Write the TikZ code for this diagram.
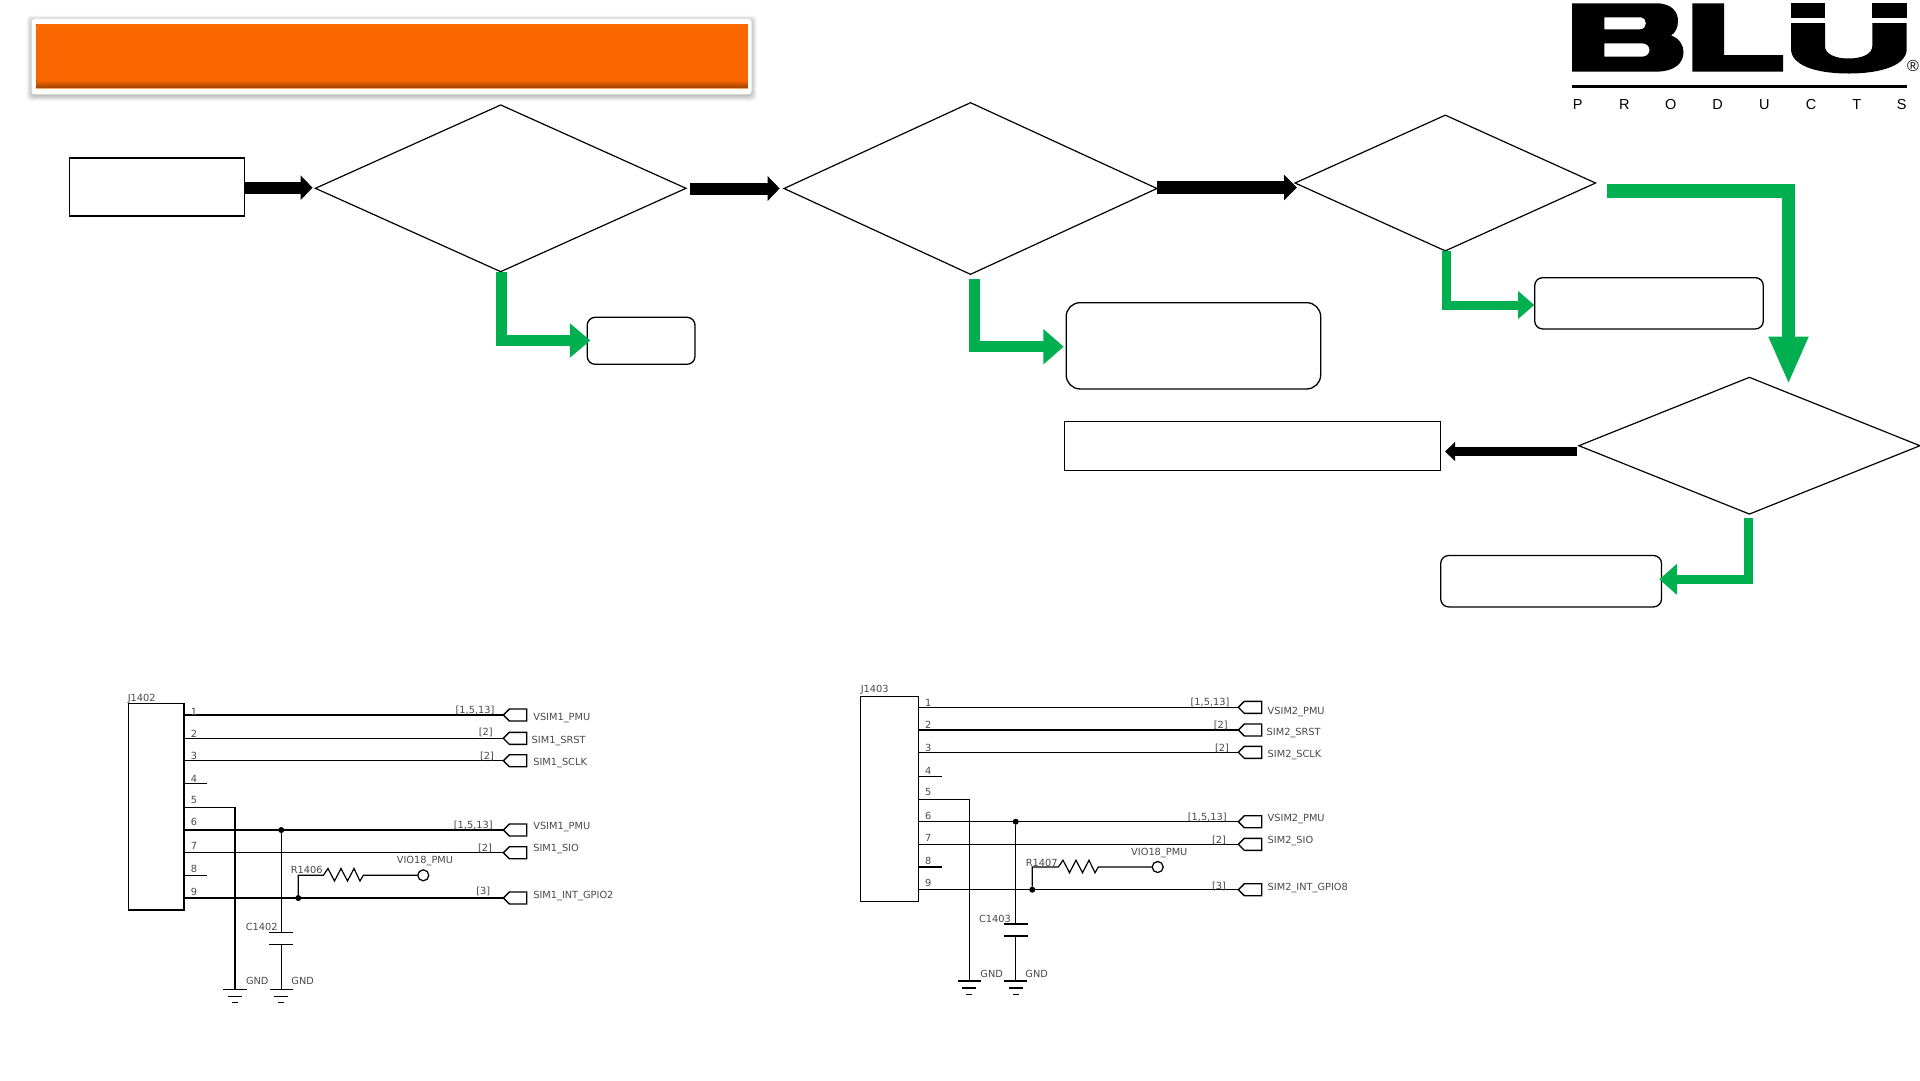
\documentclass[tikz,border=0pt]{standalone}
\usepackage{fontspec}
\setmainfont{DejaVu Sans}
\newfontfamily\logofont{Liberation Sans}
\usetikzlibrary{shapes.geometric,arrows.meta,calc}
\definecolor{flowgreen}{HTML}{00B050}
\definecolor{barorange}{HTML}{FA6600}
\definecolor{bardark}{HTML}{9C4200}
\definecolor{schemtext}{HTML}{4A4A4A}
\tikzset{
  x=1pt,y=-1pt,
  flowdiamond/.style={draw=black,line width=1.2pt,diamond,inner sep=0pt,outer sep=0pt,fill=white},
  flowrect/.style={draw=black,line width=1.3pt,rectangle,inner sep=0pt,outer sep=0pt,fill=white},
  flowround/.style={draw=black,line width=1.3pt,rectangle,rounded corners=8pt,inner sep=0pt,outer sep=0pt,fill=white},
  blackflow/.style={line width=12pt,draw=black,-{Triangle[length=12pt,width=24pt,fill=black]}},
  greenflow/.style={line width=11pt,draw=flowgreen,miter limit=10,-{Triangle[length=20pt,width=33pt,fill=flowgreen]}},
  wire/.style={draw=black,line width=1.2pt},
  connbox/.style={draw=black,line width=1.4pt,rectangle,inner sep=0pt,outer sep=0pt},
  schem/.style={inner sep=0pt,outer sep=0pt,text=schemtext,yshift=-0.8pt,font=\fontsize{9.8}{11}\selectfont},
  portlabel/.style={schem,anchor=west},
  pinnum/.style={schem},
  dotnode/.style={circle,fill=black,inner sep=0pt,minimum size=6pt,outer sep=0pt},
  ringnode/.style={circle,draw=black,line width=1.25pt,fill=white,inner sep=0pt,minimum size=11pt,outer sep=0pt},
  logoletter/.style={inner sep=0pt,outer sep=0pt,font=\logofont\fontsize{14.5}{16}\selectfont,text=black},
}
\newcommand{\portshape}[2]{%
  \draw[wire,line width=1.4pt] (#1,#2) -- (#1+6,#2-6) -- (#1+23.4,#2-6) -- (#1+23.4,#2+6) -- (#1+6,#2+6) -- cycle;}
\newcommand{\groundshape}[2]{%
  \draw[wire] (#1-11.7,#2) -- (#1+11.7,#2);
  \draw[wire] (#1-7,#2+7) -- (#1+7,#2+7);
  \draw[wire] (#1-3,#2+13.4) -- (#1+3,#2+13.4);}
\begin{document}
\begin{tikzpicture}
\useasboundingbox (0,0) rectangle (1920,1080);
\fill[white] (0,0) rectangle (1920,1080);

% title bar
\foreach \g in {5,4,3,2,1,0}{
  \fill[black,opacity=0.045,rounded corners=4pt] (31.5-\g,19-\g+1.5) rectangle (751.5+\g,94.5+\g+1.5);
}
\node[rectangle,rounded corners=3pt,fill=white,minimum width=720pt,minimum height=75.5pt,inner sep=0pt,outer sep=0pt] (barframe) at (391.5,56.7) {};
\node[rectangle,fill=barorange,minimum width=711.5pt,minimum height=64.7pt,inner sep=0pt,outer sep=0pt] (titlebar) at (392,56.7) {};
\fill[top color=barorange,bottom color=bardark] ([yshift=9pt]titlebar.south west) rectangle ([yshift=1.2pt]titlebar.south east);
\fill[top color=barorange!80!orange,bottom color=barorange] (titlebar.north west) rectangle ([yshift=-7pt]titlebar.north east);
\fill[barorange!60!white] ([yshift=1.2pt]titlebar.south west) rectangle (titlebar.south east);

% logo
\fill[black,even odd rule]
  (1572,3.3) -- (1656,3.3) .. controls (1672,3.3) and (1678,12) .. (1678,21)
  .. controls (1678,28) and (1675,33) .. (1671,35.5)
  .. controls (1679,38) and (1683.5,45) .. (1683.5,52)
  .. controls (1683.5,63) and (1675,71.7) .. (1655,71.7) -- (1572,71.7) -- cycle
  (1604.3,17.3) -- (1640,17.3) .. controls (1648,17.3) and (1648,29.3) .. (1640,29.3) -- (1604.3,29.3) -- cycle
  (1604.3,43.3) -- (1642,43.3) .. controls (1652,43.3) and (1652,56.7) .. (1642,56.7) -- (1604.3,56.7) -- cycle;
\fill[black] (1692.3,3.3) -- (1724,3.3) -- (1724,55) -- (1783,55) -- (1783,71.7) -- (1692.3,71.7) -- cycle;
\fill[black] (1791,3.3) rectangle (1825,18);
\fill[black] (1872.3,3.3) rectangle (1906.7,18);
\fill[black] (1791,23) -- (1825,23) -- (1825,46) .. controls (1825,54) and (1835,58.5) .. (1848.5,58.5)
  .. controls (1862,58.5) and (1872.3,54) .. (1872.3,46) -- (1872.3,23) -- (1906.7,23) -- (1906.7,49)
  .. controls (1906.7,65) and (1882,73.5) .. (1848.5,73.5)
  .. controls (1815,73.5) and (1791,65) .. (1791,49) -- cycle;
\node[inner sep=0pt,font=\logofont\fontsize{16}{18}\selectfont] (logoreg) at (1913,66) {®};
\draw[black,line width=3.4pt] (1572,86.7) -- (1906.7,86.7);
\node[logoletter] (lp1) at (1577.8,105) {P};
\node[logoletter] (lp2) at (1624.3,105) {R};
\node[logoletter] (lp3) at (1670.7,105) {O};
\node[logoletter] (lp4) at (1717.7,105) {D};
\node[logoletter] (lp5) at (1764.3,105) {U};
\node[logoletter] (lp6) at (1811,105) {C};
\node[logoletter] (lp7) at (1856.7,105) {T};
\node[logoletter] (lp8) at (1901.7,105) {S};

% flowchart nodes
\node[flowrect,line width=1.8pt,minimum width=175pt,minimum height=58pt] (start) at (157,187) {};
\node[flowdiamond,minimum width=370.6pt,minimum height=166.7pt] (d1) at (500.7,188.3) {};
\node[flowdiamond,minimum width=372.9pt,minimum height=171.6pt] (d2) at (970.5,188.5) {};
\node[flowdiamond,minimum width=300.5pt,minimum height=135.7pt] (d3) at (1445.3,183) {};
\node[flowdiamond,minimum width=341.1pt,minimum height=136.7pt] (d4) at (1749.4,445.7) {};
\node[flowround,minimum width=107.8pt,minimum height=47pt] (r1) at (641.1,340.8) {};
\node[flowround,rounded corners=14pt,minimum width=254.5pt,minimum height=86.3pt] (r2) at (1193.4,345.8) {};
\node[flowround,minimum width=228.6pt,minimum height=51.3pt] (r3) at (1649,303.3) {};
\node[flowrect,line width=1.1pt,minimum width=376pt,minimum height=49pt] (r5) at (1252.5,445.8) {};
\node[flowround,minimum width=220.8pt,minimum height=51.4pt] (r4) at (1551.1,581.2) {};

% flowchart arrows
\coordinate (a1s) at (244.7,187.7);
\coordinate (a1e) at (312.6,187.7);
\coordinate (a2s) at (690,188.5);
\coordinate (a2e) at (779.7,188.5);
\coordinate (a3s) at (1156.5,187.5);
\coordinate (a3e) at (1297,187.5);
\coordinate (a4s) at (1577,451.5);
\coordinate (a4e) at (1445,451.5);
\draw[blackflow] (a1s) -- (a1e);
\draw[blackflow] (a2s) -- (a2e);
\draw[blackflow,line width=13pt,-{Triangle[length=13pt,width=25pt,fill=black]}] (a3s) -- (a3e);
\draw[blackflow,line width=9.5pt,-{Triangle[length=10pt,width=18.5pt,fill=black]}] (a4s) -- (a4e);
\coordinate (g1s) at (501.5,271.7);
\coordinate (g1c) at (501.5,340.5);
\coordinate (g1e) at (590.4,340.5);
\coordinate (g2s) at (974.6,279.3);
\coordinate (g2c) at (974.6,346.7);
\coordinate (g2e) at (1063.7,346.7);
\coordinate (g3s) at (1446.9,250.7);
\coordinate (g3c) at (1446.9,305);
\coordinate (g3e) at (1534.3,305);
\coordinate (g4s) at (1748.3,518);
\coordinate (g4c) at (1748.3,579.3);
\coordinate (g4e) at (1659.3,579.3);
\coordinate (g5s) at (1606.5,191);
\coordinate (g5c) at (1788.5,191);
\coordinate (g5e) at (1788.5,384.5);
\draw[greenflow,line width=10.5pt,-{Triangle[length=20.5pt,width=33pt,fill=flowgreen]}] (g1s) -- (g1c) -- (g1e);
\draw[greenflow,line width=10.8pt,-{Triangle[length=20.3pt,width=34pt,fill=flowgreen]}] (g2s) -- (g2c) -- (g2e);
\draw[greenflow,line width=9pt,-{Triangle[length=16.3pt,width=27pt,fill=flowgreen]}] (g3s) -- (g3c) -- (g3e);
\draw[greenflow,line width=9.5pt,-{Triangle[length=17.7pt,width=30pt,fill=flowgreen]}] (g4s) -- (g4c) -- (g4e);
\draw[greenflow,line width=13.4pt,-{Triangle[length=48pt,width=36.5pt,fill=flowgreen]}] (g5s) -- (g5c) -- (g5e);

% schematic J1402
\node[connbox,minimum width=55.7pt,minimum height=206.7pt] (j1) at (156.2,806.7) {};
\node[schem] (j1t) at (141.7,698.3) {J1402};
\foreach \n/\yy in {1/715,2/738.3,3/760.7,6/830,7/852.7,9/898}{
  \coordinate (pa\n) at (503.3,\yy);
  \draw[wire] (184,\yy) -- (pa\n);
  \portshape{503.3}{\yy}
}
\foreach \n/\yy in {4/783.3,8/875.3}{
  \draw[wire] (184,\yy) -- (207,\yy);
}
\coordinate (gaa) at (235,989.3);
\coordinate (gab) at (281.3,989.3);
\draw[wire] (184,807.3) -- (235,807.3) -- (gaa);
\groundshape{235}{989.3}
\groundshape{281.3}{989.3}
\node[dotnode] (ja1) at (281.3,830) {};
\node[dotnode] (ja2) at (298.3,898) {};
\draw[wire] (ja1) -- (281.3,932.3);
\draw[wire] (269.3,932.3) -- (293.3,932.3);
\draw[wire] (269.3,944.3) -- (293.3,944.3);
\draw[wire] (281.3,944.3) -- (gab);
\node[ringnode] (ra) at (423.3,875.3) {};
\draw[wire] (ja2) -- (298.3,875.3) -- (323.3,875.3) -- (328,868.5) -- (334.5,881) -- (341,868.5) -- (347.5,881) -- (354,868.5) -- (360,881) -- (363.3,875.3) -- (ra);
\foreach \n/\xx/\yy in {1/194/710.7,2/194/732.7,3/194/755.3,4/194/778,5/194/798.7,6/194/821.3,7/194/845.3,8/194/868.3,9/194/890.7}{
  \node[pinnum] (pna\n) at (\xx,\yy) {\n};
}
\node[schem] (ba1) at (475,710) {[1,5,13]};
\node[schem] (ba2) at (485.7,731.7) {[2]};
\node[schem] (ba3) at (487,755.7) {[2]};
\node[schem] (ba4) at (473.3,825) {[1,5,13]};
\node[schem] (ba5) at (485,847.3) {[2]};
\node[schem] (ba6) at (483.3,891) {[3]};
\node[portlabel] (la1) at (533.3,717.7) {VSIM1\_PMU};
\node[portlabel] (la2) at (531.7,740.3) {SIM1\_SRST};
\node[portlabel] (la3) at (533.3,762.7) {SIM1\_SCLK};
\node[portlabel] (la4) at (533.3,826) {VSIM1\_PMU};
\node[portlabel] (la5) at (533.3,848.7) {SIM1\_SIO};
\node[portlabel] (la6) at (533.3,895.7) {SIM1\_INT\_GPIO2};
\node[schem] (la7) at (425,860.7) {VIO18\_PMU};
\node[schem] (la8) at (306.7,869.3) {R1406};
\node[schem] (la9) at (261.7,925.7) {C1402};
\node[schem] (la10) at (257.3,979.7) {GND};
\node[schem] (la11) at (302.7,979.7) {GND};

% schematic J1403
\node[connbox,minimum width=57.6pt,minimum height=205pt] (j2) at (889.5,799.2) {};
\node[schem] (j2t) at (874.7,688.7) {J1403};
\foreach \n/\yy in {1/707.3,2/730,3/752.3,6/821.7,7/844.3,9/889.7}{
  \coordinate (pb\n) at (1238.3,\yy);
  \draw[wire] (918.3,\yy) -- (pb\n);
  \portshape{1238.3}{\yy}
}
\foreach \n/\yy in {4/776.7,8/867}{
  \draw[wire] (918.3,\yy) -- (941.5,\yy);
}
\coordinate (gba) at (969.3,981);
\coordinate (gbb) at (1015.7,981);
\draw[wire] (918.3,799.3) -- (969.3,799.3) -- (gba);
\groundshape{969.3}{981}
\groundshape{1015.7}{981}
\node[dotnode] (jb1) at (1015.7,821.7) {};
\node[dotnode] (jb2) at (1032.3,889.7) {};
\draw[wire] (jb1) -- (1015.7,924);
\draw[wire] (1003.7,924) -- (1027.7,924);
\draw[wire] (1003.7,936) -- (1027.7,936);
\draw[wire] (1015.7,936) -- (gbb);
\node[ringnode] (rb) at (1157.7,867) {};
\draw[wire] (jb2) -- (1032.3,867) -- (1058.3,867) -- (1063,860.2) -- (1069.5,872.7) -- (1076,860.2) -- (1082.5,872.7) -- (1089,860.2) -- (1095,872.7) -- (1098.3,867) -- (rb);
\foreach \n/\xx/\yy in {1/928.3/702.3,2/928.3/724.3,3/928.3/747,4/928.3/769.7,5/928.3/790.7,6/928.3/814.7,7/928.3/837,8/928.3/860,9/928.3/882}{
  \node[pinnum] (pnb\n) at (\xx,\yy) {\n};
}
\node[schem] (bb1) at (1210,702) {[1,5,13]};
\node[schem] (bb2) at (1220.7,725) {[2]};
\node[schem] (bb3) at (1222,747.3) {[2]};
\node[schem] (bb4) at (1207.3,816.7) {[1,5,13]};
\node[schem] (bb5) at (1219,839.3) {[2]};
\node[schem] (bb6) at (1219,886) {[3]};
\node[portlabel] (lb1) at (1267.7,711) {VSIM2\_PMU};
\node[portlabel] (lb2) at (1266.7,732.3) {SIM2\_SRST};
\node[portlabel] (lb3) at (1267.7,754.7) {SIM2\_SCLK};
\node[portlabel] (lb4) at (1267.7,818) {VSIM2\_PMU};
\node[portlabel] (lb5) at (1267.7,840.3) {SIM2\_SIO};
\node[portlabel] (lb6) at (1267.7,887) {SIM2\_INT\_GPIO8};
\node[schem] (lb7) at (1159.3,852.3) {VIO18\_PMU};
\node[schem] (lb8) at (1041.7,861.7) {R1407};
\node[schem] (lb9) at (995,918.3) {C1403};
\node[schem] (lb10) at (991.7,972.7) {GND};
\node[schem] (lb11) at (1036.7,972.7) {GND};
\end{tikzpicture}
\end{document}
